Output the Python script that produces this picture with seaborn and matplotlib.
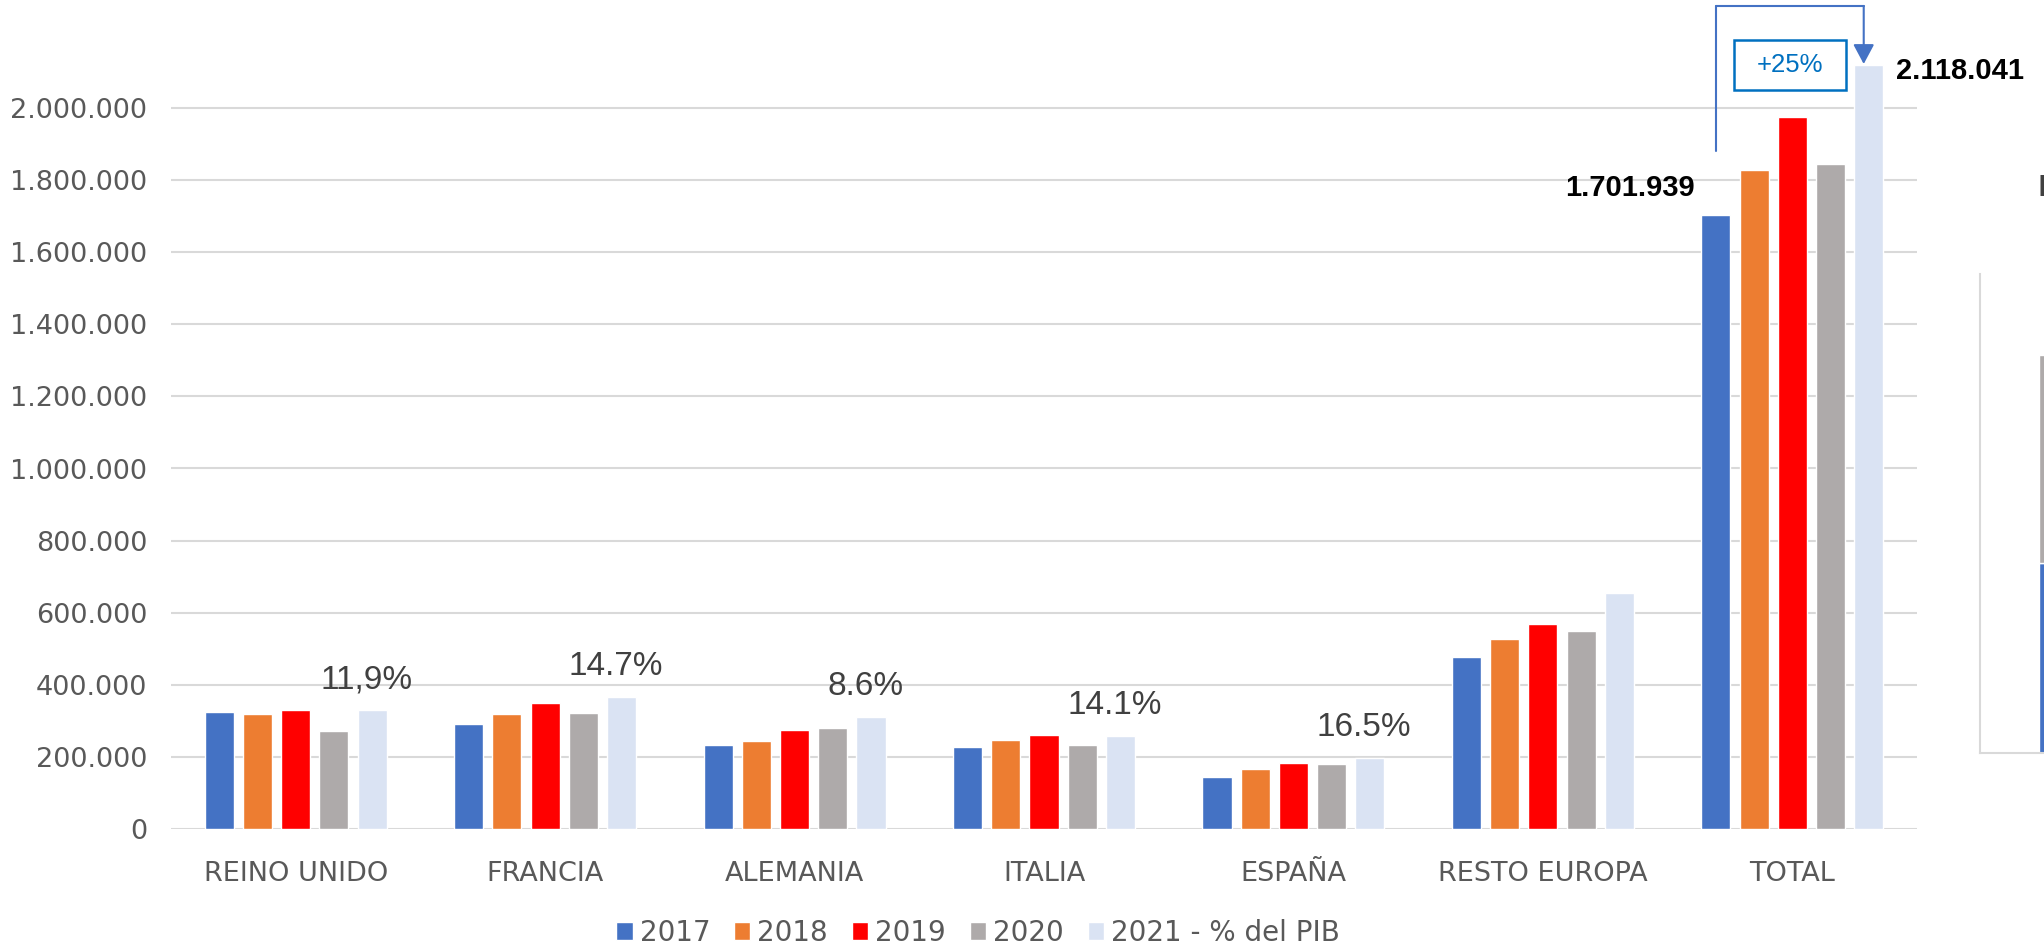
import pandas as pd
import matplotlib
matplotlib.use("Agg")
import matplotlib.pyplot as plt
import seaborn as sns
from matplotlib.patches import Rectangle
from matplotlib.ticker import FuncFormatter

# -------------------------------
# Data
# -------------------------------
countries = ["REINO UNIDO", "FRANCIA", "ALEMANIA", "ITALIA", "ESPAÑA", "RESTO EUROPA", "TOTAL"]
years = ["2017", "2018", "2019", "2020", "2021 - % del PIB"]
v2017 = [324000, 291000, 232000, 227000, 145000, 477000, 1701939]
v2018 = [320000, 320000, 244000, 246000, 166000, 528000, 1828000]
v2019 = [329000, 350000, 276000, 262000, 184000, 570000, 1975000]
v2020 = [272000, 323000, 280000, 233000, 181000, 549000, 1845000]
v2021 = [329000, 365000, 311000, 257000, 197000, 654000, 2118041]
pct_labels = ["11,9%", "14.7%", "8.6%", "14.1%", "16.5%"]
growth_label = "+25%"
yticks = [0, 200000, 400000, 600000, 800000, 1000000, 1200000, 1400000,
          1600000, 1800000, 2000000]

# cropped neighbour chart on the right edge
side_blue = [39.7]
side_gray = [43.4]

colors = ["#4472C4", "#ED7D31", "#FF0000", "#AEAAAA", "#DAE3F3"]

rows = []
for y, vals in zip(years, [v2017, v2018, v2019, v2020, v2021]):
    for c, v in zip(countries, vals):
        rows.append({"pais": c, "anio": y, "valor": v})
df = pd.DataFrame(rows)

sns.set_style("white")
plt.rcParams["font.family"] = ["DejaVu Sans"]

fig = plt.figure(figsize=(20.44, 9.47), dpi=100)
ax = fig.add_axes([171 / 2044, 118 / 947, 1746 / 2044, 2.29 * 360.5 / 947])

sns.barplot(data=df, x="pais", y="valor", hue="anio", order=countries,
            hue_order=years, palette=colors, width=0.766, gap=0.24,
            saturation=1, ax=ax)

ax.set_xlim(-0.5, len(countries) - 0.5)
ax.set_ylim(0, 2290000)
ax.set_yticks(yticks)
ax.yaxis.set_major_formatter(FuncFormatter(lambda v, p: f"{int(v):,}".replace(",", ".")))
ax.grid(axis="y", color="#D9D9D9", linewidth=1.5)
ax.set_axisbelow(True)
for s in ax.spines.values():
    s.set_visible(False)
ax.tick_params(axis="y", length=0, pad=17, labelsize=19.5, labelcolor="#595959")
ax.tick_params(axis="x", length=0, pad=23, labelsize=19.5, labelcolor="#595959")
ax.set_xlabel("")
ax.set_ylabel("")

# legend
handles, labels = ax.get_legend_handles_labels()
ax.get_legend().remove()
fig.legend(handles, labels, loc="center", bbox_to_anchor=(978 / 2044, 14 / 947),
           ncol=5, frameon=False, fontsize=20, labelcolor="#595959",
           handlelength=0.6, handleheight=0.6, handletextpad=0.25,
           columnspacing=0.85)

# percent labels above 2021 bars
last = ax.containers[4]
for i, txt in enumerate(pct_labels):
    b = last[i]
    ax.annotate(txt, (b.get_x() + b.get_width() / 2, b.get_height()),
                xytext=(-4, 22), textcoords="offset points", ha="center",
                va="center", fontsize=24, color="#404040", family="Liberation Sans")

# total value labels
b17 = ax.containers[0][6]
b21 = ax.containers[4][6]
ax.annotate(f"{v2017[6]:,}".replace(",", "."), (b17.get_x(), b17.get_height()),
            xytext=(-5, 20), textcoords="offset points", ha="right", va="center",
            fontsize=21, fontweight="bold", color="black", family="Liberation Sans")
ax.annotate(f"{v2021[6]:,}".replace(",", "."), (b21.get_x() + b21.get_width(), b21.get_height()),
            xytext=(9, -4), textcoords="offset points", ha="left", va="center",
            fontsize=21, fontweight="bold", color="black", family="Liberation Sans",
            annotation_clip=False)

# growth bracket and arrow
x17 = b17.get_x() + b17.get_width() / 2
x21 = b21.get_x() + b21.get_width() / 2 - 0.02
ytop = 2283000
ax.plot([x17, x17], [1880000, ytop], color="#4472C4", lw=1.5, clip_on=False)
ax.plot([x17, x21], [ytop, ytop], color="#4472C4", lw=1.5, clip_on=False)
ax.annotate("", xy=(x21, 2122000), xytext=(x21, ytop),
            arrowprops=dict(arrowstyle="-|>,head_length=0.6,head_width=0.32",
                            mutation_scale=20, color="#4472C4", lw=1.5,
                            shrinkA=0, shrinkB=0),
            annotation_clip=False)
xc, yc = (x17 + x21) / 2, 2120000
ax.text(xc, yc, growth_label, ha="center", va="center",
        fontsize=18.5, color="#0070C0", family="Liberation Sans")
fig.canvas.draw()
cx, cy = ax.transData.transform((xc, yc))
fig.add_artist(Rectangle((cx - 56, cy - 25), 112, 50, transform=None,
                         fill=False, ec="#0070C0", lw=1.8))

# cropped neighbour chart
ax2 = fig.add_axes([1980 / 2044, 1 - 753 / 947, 0.1, (753 - 274) / 947])
ax2.bar([0.289], side_blue, width=0.2, align="edge", color="#4472C4")
ax2.bar([0.289], side_gray, width=0.2, bottom=side_blue, align="edge", color="#AEAAAA")
ax2.set_xlim(0, 1)
ax2.set_ylim(0, 100)
ax2.set_xticks([])
ax2.set_yticks([])
for k in ["top", "right"]:
    ax2.spines[k].set_visible(False)
for k in ["left", "bottom"]:
    ax2.spines[k].set_color("#D9D9D9")
    ax2.spines[k].set_linewidth(1.5)
fig.text(2037 / 2044, 1 - 188 / 947, "E", ha="left", va="center", fontsize=20,
         fontweight="bold", color="#404040")

fig.savefig("out.png", dpi=100)
